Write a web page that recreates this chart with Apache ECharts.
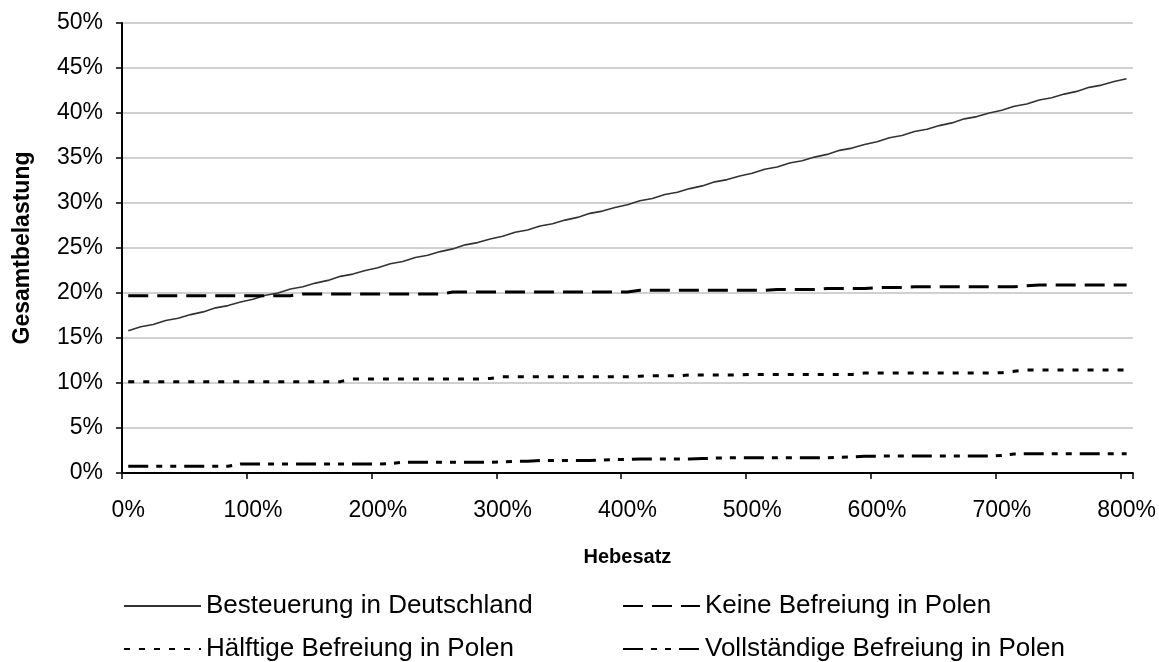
<!DOCTYPE html>
<html>
<head>
<meta charset="utf-8">
<script src="https://cdn.jsdelivr.net/npm/echarts@6/dist/echarts.min.js"></script>
<style>
html,body{margin:0;padding:0;background:#fff;}
#chart{width:1159px;height:662px;}
</style>
</head>
<body>
<div id="chart"></div>
<script>
// Hebesatz categories 0% .. 800% in 10% steps
const hebesatz = ['0%','10%','20%','30%','40%','50%','60%','70%','80%','90%',
  '100%','110%','120%','130%','140%','150%','160%','170%','180%','190%',
  '200%','210%','220%','230%','240%','250%','260%','270%','280%','290%',
  '300%','310%','320%','330%','340%','350%','360%','370%','380%','390%',
  '400%','410%','420%','430%','440%','450%','460%','470%','480%','490%',
  '500%','510%','520%','530%','540%','550%','560%','570%','580%','590%',
  '600%','610%','620%','630%','640%','650%','660%','670%','680%','690%',
  '700%','710%','720%','730%','740%','750%','760%','770%','780%','790%',
  '800%'];

const yTicks = [0,5,10,15,20,25,30,35,40,45,50];

// Gesamtbelastung in %
const besteuerungDeutschland = [
  15.8,16.25,16.5,16.95,17.2,17.6,17.9,18.35,18.6,19.0,
  19.3,19.75,20.0,20.45,20.7,21.1,21.4,21.85,22.1,22.5,
  22.8,23.25,23.5,23.95,24.2,24.6,24.9,25.35,25.6,26.0,
  26.3,26.75,27.0,27.45,27.7,28.1,28.4,28.85,29.1,29.5,
  29.8,30.25,30.5,30.95,31.2,31.6,31.9,32.35,32.6,33.0,
  33.3,33.75,34.0,34.45,34.7,35.1,35.4,35.85,36.1,36.5,
  36.8,37.25,37.5,37.95,38.2,38.6,38.9,39.35,39.6,40.0,
  40.3,40.75,41.0,41.45,41.7,42.1,42.4,42.85,43.1,43.5,
  43.8];

const keineBefreiung = [
  19.7,19.7,19.7,19.7,19.7,19.7,19.7,19.7,19.7,19.7,
  19.7,19.7,19.7,19.7,19.9,19.9,19.9,19.9,19.9,19.9,
  19.9,19.9,19.9,19.9,19.9,19.9,20.1,20.1,20.1,20.1,
  20.1,20.1,20.1,20.1,20.1,20.1,20.1,20.1,20.1,20.1,
  20.1,20.3,20.3,20.3,20.3,20.3,20.3,20.3,20.3,20.3,
  20.3,20.3,20.4,20.4,20.4,20.4,20.5,20.5,20.5,20.5,
  20.6,20.6,20.6,20.7,20.7,20.7,20.7,20.7,20.7,20.7,
  20.7,20.7,20.8,20.9,20.9,20.9,20.9,20.9,20.9,20.9,
  20.9];

const haelftigeBefreiung = [
  10.15,10.15,10.15,10.15,10.15,10.15,10.15,10.15,10.15,10.15,
  10.15,10.15,10.15,10.15,10.15,10.15,10.15,10.15,10.45,10.45,
  10.45,10.45,10.45,10.45,10.45,10.45,10.45,10.45,10.45,10.5,
  10.7,10.7,10.7,10.7,10.7,10.7,10.7,10.7,10.7,10.7,
  10.7,10.75,10.8,10.8,10.8,10.9,10.9,10.9,10.9,10.9,
  10.95,10.95,10.95,10.95,10.95,10.95,10.95,10.95,10.95,11.1,
  11.1,11.1,11.1,11.1,11.1,11.1,11.1,11.1,11.1,11.1,
  11.15,11.3,11.45,11.45,11.45,11.45,11.45,11.45,11.45,11.45,
  11.45];

const vollstaendigeBefreiung = [
  0.75,0.75,0.75,0.75,0.75,0.75,0.75,0.75,0.75,1.0,
  1.0,1.0,1.0,1.0,1.0,1.0,1.0,1.0,1.0,1.0,
  1.0,1.05,1.2,1.2,1.2,1.2,1.2,1.2,1.2,1.2,
  1.25,1.3,1.3,1.4,1.4,1.4,1.4,1.4,1.45,1.5,
  1.5,1.55,1.55,1.55,1.55,1.55,1.6,1.65,1.7,1.7,
  1.7,1.7,1.7,1.7,1.7,1.7,1.7,1.75,1.8,1.85,
  1.85,1.9,1.9,1.9,1.9,1.9,1.9,1.9,1.9,1.9,
  1.95,2.1,2.15,2.15,2.15,2.15,2.15,2.15,2.15,2.15,
  2.15];

const seriesNames = ['Besteuerung in Deutschland','Keine Befreiung in Polen',
  'Hälftige Befreiung in Polen','Vollständige Befreiung in Polen'];

const FONT = 'Liberation Sans, Arial, sans-serif';
const chart = echarts.init(document.getElementById('chart'), null, {renderer: 'canvas'});

function legendAt(name, left, top) {
  return {
    data: [name], left: left, top: top, padding: 0,
    itemWidth: 77, itemHeight: 14, itemGap: 0,
    itemStyle: {opacity: 0},
    textStyle: {fontFamily: FONT, fontSize: 26, color: '#000', padding: [0,0,0,0]},
    selectedMode: false
  };
}

chart.setOption({
  animation: false,
  backgroundColor: '#fff',
  grid: {left: 122, right: 22, top: 23, bottom: 189, containLabel: false},
  legend: [
    legendAt(seriesNames[0], 123, 593),
    legendAt(seriesNames[1], 622, 593),
    legendAt(seriesNames[2], 123, 636),
    legendAt(seriesNames[3], 622, 636)
  ],
  xAxis: {
    type: 'category', data: hebesatz, boundaryGap: true,
    name: 'Hebesatz', nameLocation: 'middle', nameGap: 74,
    nameTextStyle: {fontFamily: FONT, fontSize: 20, fontWeight: 'bold', color: '#000'},
    axisLine: {lineStyle: {color: '#000', width: 2}},
    axisTick: {show: true, interval: 9, length: 6, lineStyle: {color: '#000', width: 1.5}},
    axisLabel: {interval: 9, margin: 26, fontFamily: FONT, fontSize: 23, color: '#000'},
    splitLine: {show: false}
  },
  yAxis: {
    type: 'value', min: yTicks[0], max: yTicks[yTicks.length-1], interval: 5,
    name: 'Gesamtbelastung', nameLocation: 'middle', nameGap: 88, nameRotate: 90,
    nameTextStyle: {fontFamily: FONT, fontSize: 23, fontWeight: 'bold', color: '#000'},
    axisLine: {show: true, lineStyle: {color: '#000', width: 2}},
    axisTick: {show: true, length: 6, lineStyle: {color: '#000', width: 1.5}},
    axisLabel: {margin: 19, fontFamily: FONT, fontSize: 23, color: '#000', formatter: '{value}%'},
    splitLine: {show: true, lineStyle: {color: '#c0c0c0', width: 1.5}}
  },
  series: [
    {name: seriesNames[0], type: 'line', data: besteuerungDeutschland, symbol: 'none',
     lineStyle: {color: '#333', width: 1.6, type: 'solid'}, itemStyle: {color: '#333'}},
    {name: seriesNames[1], type: 'line', data: keineBefreiung, symbol: 'none',
     lineStyle: {color: '#000', width: 3, type: [20, 9]}, itemStyle: {color: '#000'}},
    {name: seriesNames[2], type: 'line', data: haelftigeBefreiung, symbol: 'none',
     lineStyle: {color: '#000', width: 3, type: [6, 9]}, itemStyle: {color: '#000'}},
    {name: seriesNames[3], type: 'line', data: vollstaendigeBefreiung, symbol: 'none',
     lineStyle: {color: '#000', width: 3, type: [20, 8, 6, 8, 6, 8]}, itemStyle: {color: '#000'}}
  ]
});
</script>
</body>
</html>
